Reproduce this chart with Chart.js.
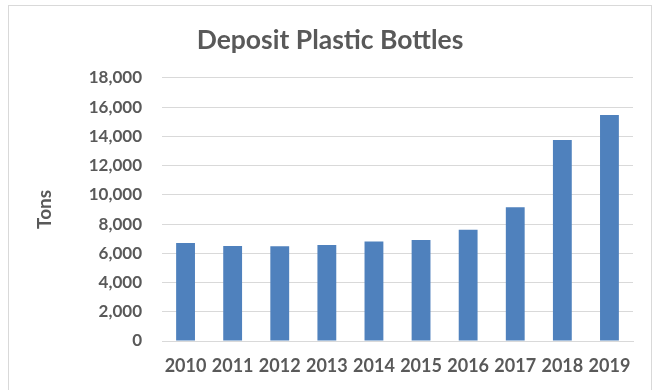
<!DOCTYPE html>
<html>
<head>
<meta charset="utf-8">
<script src="https://cdn.jsdelivr.net/npm/chart.js@4.4.1/dist/chart.umd.min.js"></script>
<style>
  html, body { margin: 0; padding: 0; background: #ffffff; }
  #wrap { position: relative; width: 656px; height: 390px; overflow: hidden; }
  canvas { display: block; }
</style>
</head>
<body>
<div id="wrap"><canvas id="c" width="656" height="390"></canvas></div>
<script>
// Annual deposit plastic bottle collection, in tons
const years = ['2010', '2011', '2012', '2013', '2014', '2015', '2016', '2017', '2018', '2019'];
const tons = [6700, 6500, 6480, 6570, 6800, 6900, 7600, 9150, 13750, 15450];
const tickValues = [0, 2000, 4000, 6000, 8000, 10000, 12000, 14000, 16000, 18000];

const textColor = '#595959';
const gridColor = '#d9d9d9';
const fontFamily = 'Lato, "Open Sans", sans-serif';

// Light frame around the whole chart
const framePlugin = {
  id: 'frame',
  beforeDraw(chart) {
    const ctx = chart.ctx;
    ctx.save();
    ctx.fillStyle = '#ffffff';
    ctx.fillRect(0, 0, chart.width, chart.height);
    ctx.strokeStyle = gridColor;
    ctx.lineWidth = 1;
    ctx.strokeRect(8.5, 5.5, 643, 400);
    ctx.restore();
  }
};

new Chart(document.getElementById('c'), {
  type: 'bar',
  data: {
    labels: years,
    datasets: [{
      label: 'Tons',
      data: tons,
      backgroundColor: '#4f81bd',
      borderWidth: 0,
      barPercentage: 0.4,
      categoryPercentage: 1
    }]
  },
  options: {
    responsive: false,
    animation: false,
    layout: { padding: { left: 27, right: 23, top: 0, bottom: 0 } },
    plugins: {
      legend: { display: false },
      tooltip: { enabled: false },
      title: {
        display: true,
        text: 'Deposit Plastic Bottles',
        color: textColor,
        font: { family: fontFamily, size: 26.5, weight: 'bold', lineHeight: 1.2 },
        padding: { top: 25, bottom: 21 }
      }
    },
    scales: {
      x: {
        grid: { display: false, drawTicks: false },
        border: { display: true, color: gridColor, width: 1 },
        ticks: {
          color: textColor,
          font: { family: fontFamily, size: 18, weight: 'bold' },
          padding: 14,
          maxRotation: 0,
          autoSkip: false
        },
        afterFit(scale) { scale.height = 49; }
      },
      y: {
        min: 0,
        max: 18000,
        afterBuildTicks(scale) { scale.ticks = tickValues.map(v => ({ value: v })); },
        grid: { color: gridColor, lineWidth: 1, drawTicks: false },
        border: { display: false },
        ticks: {
          color: textColor,
          font: { family: fontFamily, size: 17, weight: 'bold' },
          padding: 20,
          callback: v => v.toLocaleString('en-US')
        },
        title: {
          display: true,
          text: 'Tons',
          color: textColor,
          font: { family: fontFamily, size: 19, weight: 'bold' },
          padding: { top: 6, bottom: 0 }
        },
        afterFit(scale) { scale.width = 135; }
      }
    }
  },
  plugins: [framePlugin]
});
</script>
</body>
</html>
